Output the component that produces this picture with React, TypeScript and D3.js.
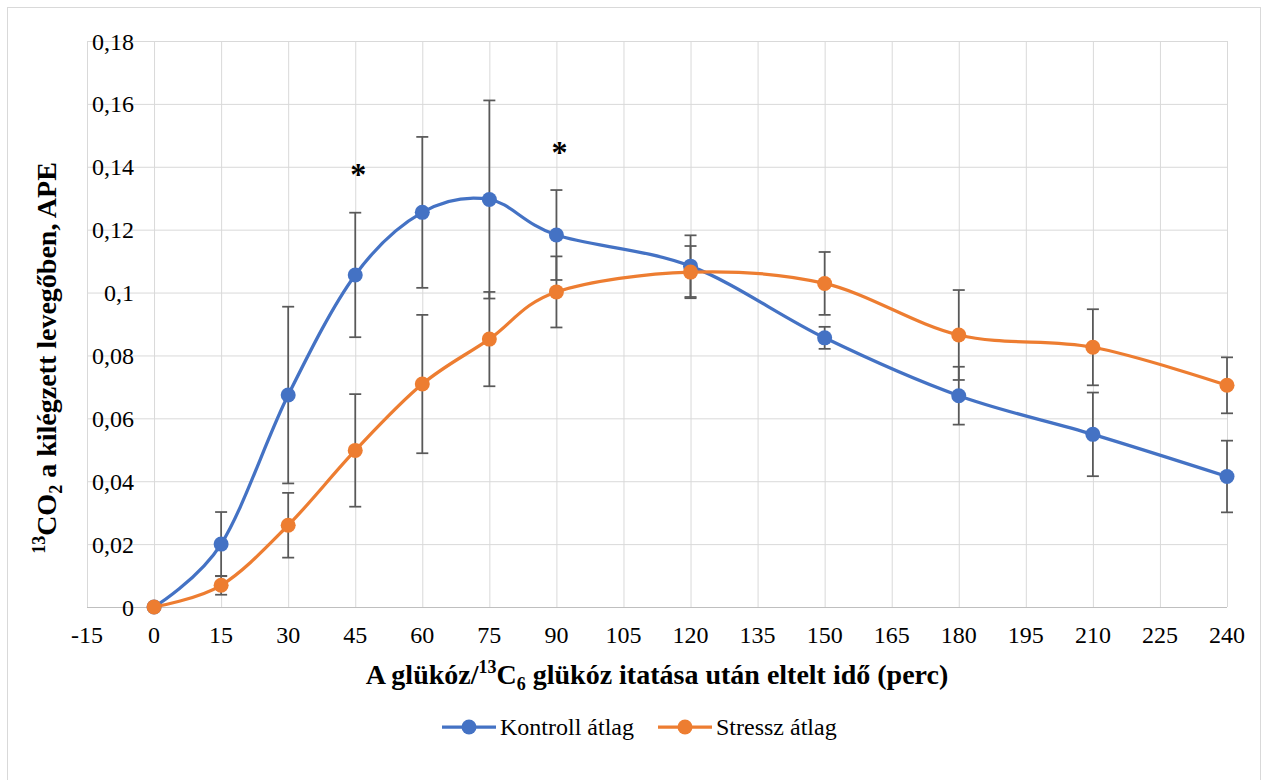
import * as d3 from "d3";
import { useEffect, useRef } from "react";

// mérési időpontok (perc)
const times = [0, 15, 30, 45, 60, 75, 90, 120, 150, 180, 210, 240];
const kontroll = [0, 0.02, 0.0674, 0.1056, 0.1255, 0.1296, 0.1183, 0.1084, 0.0856, 0.0672, 0.0549, 0.0415];
const kontrollErr = [0, 0.0102, 0.0281, 0.0198, 0.024, 0.0315, 0.0143, 0.0098, 0.0035, 0.0092, 0.0133, 0.0114];
const stressz = [0, 0.0069, 0.026, 0.0498, 0.0709, 0.0852, 0.1002, 0.1065, 0.1029, 0.0865, 0.0826, 0.0705];
const stresszErr = [0, 0.003, 0.0103, 0.0179, 0.022, 0.015, 0.0113, 0.0083, 0.01, 0.0143, 0.0121, 0.0089];
const xTicks = d3.range(-15, 241, 15);
const yTicks = [0, 0.02, 0.04, 0.06, 0.08, 0.1, 0.12, 0.14, 0.16, 0.18];
const stars = [{ x: 45, y: 0.1396 }, { x: 90, y: 0.1466 }];

const FONT = "Liberation Serif, Times New Roman, serif";

export default function App() {
  const ref = useRef<SVGSVGElement>(null);

  useEffect(() => {
    const svg = d3.select(ref.current);
    svg.selectAll("*").remove();
    svg.attr("font-family", FONT);

    const x = d3.scaleLinear().domain([-15, 240]).range([87, 1227]);
    const y = d3.scaleLinear().domain([0, 0.18]).range([607, 41]);

    svg.append("rect").attr("width", 1264).attr("height", 780).attr("fill", "#fff");
    svg.append("rect")
      .attr("x", 7.5).attr("y", 7.5).attr("width", 1253).attr("height", 790)
      .attr("fill", "none").attr("stroke", "#d9d9d9");

    // rács
    svg.append("g").selectAll("line").data(xTicks).enter().append("line")
      .attr("x1", d => x(d) + 0.5).attr("x2", d => x(d) + 0.5)
      .attr("y1", y(0.18)).attr("y2", y(0))
      .attr("stroke", "#d9d9d9").attr("stroke-width", 1);
    svg.append("g").selectAll("line").data(yTicks).enter().append("line")
      .attr("x1", x(-15)).attr("x2", x(240))
      .attr("y1", d => y(d) + 0.5).attr("y2", d => y(d) + 0.5)
      .attr("stroke", d => (d === 0 ? "#bfbfbf" : "#d9d9d9")).attr("stroke-width", 1);

    // tengelyfeliratok
    svg.append("g").selectAll("text").data(yTicks).enter().append("text")
      .attr("x", 134).attr("y", d => y(d) + 8.5)
      .attr("text-anchor", "end")
      .attr("font-family", FONT).attr("font-size", 24).attr("fill", "#000")
      .text(d => String(+d.toFixed(2)).replace(".", ","));
    svg.append("g").selectAll("text").data(xTicks).enter().append("text")
      .attr("x", d => x(d)).attr("y", 643)
      .attr("text-anchor", "middle")
      .attr("font-family", FONT).attr("font-size", 24).attr("fill", "#000")
      .text(d => String(d));

    // hibasávok
    const errs = svg.append("g").attr("stroke", "#595959").attr("stroke-width", 1.75);
    const drawErr = (vals: number[], err: number[]) => {
      times.forEach((t, i) => {
        if (!err[i]) return;
        const cx = x(t);
        const top = y(vals[i] + err[i]);
        const bot = y(vals[i] - err[i]);
        errs.append("line").attr("x1", cx).attr("x2", cx).attr("y1", top).attr("y2", bot);
        errs.append("line").attr("x1", cx - 6).attr("x2", cx + 6).attr("y1", top).attr("y2", top);
        errs.append("line").attr("x1", cx - 6).attr("x2", cx + 6).attr("y1", bot).attr("y2", bot);
      });
    };
    drawErr(kontroll, kontrollErr);
    drawErr(stressz, stresszErr);

    const line = d3.line<number>()
      .x((_, i) => x(times[i]))
      .y(d => y(d))
      .curve(d3.curveCardinal.tension(0));

    const series = [
      { vals: kontroll, color: "#4472c4" },
      { vals: stressz, color: "#ed7d31" },
    ];
    series.forEach(s => {
      svg.append("path").attr("d", line(s.vals))
        .attr("fill", "none").attr("stroke", s.color).attr("stroke-width", 3.25)
        .attr("stroke-linecap", "round");
      svg.append("g").selectAll("circle").data(s.vals).enter().append("circle")
        .attr("cx", (_, i) => x(times[i])).attr("cy", d => y(d))
        .attr("r", 7.5).attr("fill", s.color);
    });

    // szignifikancia
    svg.append("g").selectAll("text").data(stars).enter().append("text")
      .attr("x", d => x(d.x) + 3).attr("y", d => y(d.y) + 17)
      .attr("text-anchor", "middle")
      .attr("font-family", FONT).attr("font-size", 32).attr("font-weight", "bold").attr("fill", "#000")
      .text("*");

    // x tengely címe
    const xt = svg.append("text")
      .attr("x", 657).attr("y", 684).attr("text-anchor", "middle")
      .attr("font-family", FONT).attr("font-size", 28).attr("font-weight", "bold").attr("fill", "#000");
    xt.append("tspan").text("A glükóz/");
    xt.append("tspan").attr("dy", -11).attr("font-size", 18).text("13");
    xt.append("tspan").attr("dy", 11).text("C");
    xt.append("tspan").attr("dy", 6).attr("font-size", 18).text("6");
    xt.append("tspan").attr("dy", -6).text(" glükóz itatása után eltelt idő (perc)");

    // y tengely címe
    const yt = svg.append("text")
      .attr("transform", "translate(56,358) rotate(-90)")
      .attr("text-anchor", "middle")
      .attr("font-family", FONT).attr("font-size", 28).attr("font-weight", "bold").attr("fill", "#000");
    yt.append("tspan").attr("dy", -11).attr("font-size", 18).text("13");
    yt.append("tspan").attr("dy", 11).text("CO");
    yt.append("tspan").attr("dy", 6).attr("font-size", 18).text("2");
    yt.append("tspan").attr("dy", -6).text(" a kilégzett levegőben, APE");

    // jelmagyarázat
    const legend = [
      { name: "Kontroll átlag", color: "#4472c4", x0: 442 },
      { name: "Stressz átlag", color: "#ed7d31", x0: 658 },
    ];
    legend.forEach(l => {
      svg.append("line").attr("x1", l.x0).attr("x2", l.x0 + 54)
        .attr("y1", 727).attr("y2", 727)
        .attr("stroke", l.color).attr("stroke-width", 3.25);
      svg.append("circle").attr("cx", l.x0 + 27).attr("cy", 727).attr("r", 7.5).attr("fill", l.color);
      svg.append("text").attr("x", l.x0 + 58).attr("y", 735)
        .attr("font-family", FONT).attr("font-size", 24).attr("fill", "#000")
        .text(l.name);
    });
  }, []);

  return (
    <div style={{ position: "absolute", left: 0, top: 0 }}>
      <svg ref={ref} width={1264} height={780} style={{ display: "block" }}></svg>
    </div>
  );
}
